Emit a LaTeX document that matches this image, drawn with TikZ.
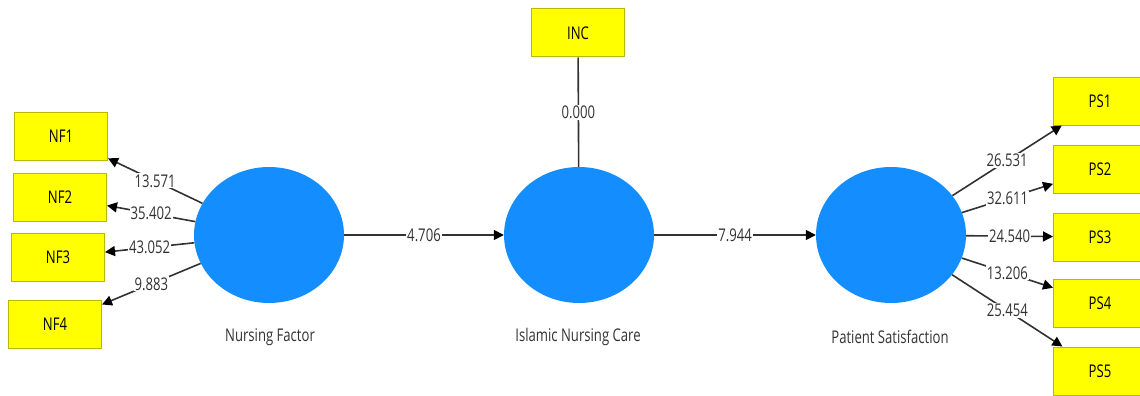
\documentclass[tikz,border=0pt]{standalone}
\usepackage{fontspec}
\setmainfont[FakeStretch=0.75]{Open Sans}
\usetikzlibrary{shapes.geometric, arrows.meta, positioning}
\definecolor{boxyellow}{RGB}{255,255,0}
\definecolor{boxedge}{RGB}{185,185,0}
\definecolor{lvblue}{RGB}{20,142,255}
\definecolor{pathgray}{RGB}{50,50,50}

\tikzset{
  indicator/.style={draw=boxedge, fill=boxyellow, line width=1pt, minimum width=93pt, minimum height=48pt, inner sep=0pt, font=\fontsize{17.5}{20}\selectfont},
  latent/.style={ellipse, fill=lvblue, minimum width=150pt, minimum height=136pt, inner sep=0pt},
  lvname/.style={font=\fontsize{17.5}{20}\selectfont, text=pathgray},
  weight/.style={fill=white, inner sep=1pt, font=\fontsize{17.5}{20}\selectfont, text=pathgray},
  link/.style={draw=pathgray, line width=1.6pt},
}

\begin{document}
\begin{tikzpicture}[x=1pt, y=-1pt, > = {Triangle[length=10pt, width=10pt, color=black]}]
    \useasboundingbox (0,0) rectangle (1140,396);
    % indicators
    \node[indicator] (nf1) at (61,136) {NF1};
    \node[indicator] (nf2) at (60,197) {NF2};
    \node[indicator] (nf3) at (58,257) {NF3};
    \node[indicator] (nf4) at (55,324) {NF4};
    \node[indicator] (inc) at (578,33) {INC};
    \node[indicator] (ps1) at (1100,101) {PS1};
    \node[indicator] (ps2) at (1100,169) {PS2};
    \node[indicator] (ps3) at (1100,237) {PS3};
    \node[indicator] (ps4) at (1100,303) {PS4};
    \node[indicator] (ps5) at (1100,371) {PS5};
    % latent variables
    \node[latent] (nf) at (269,235) {};
    \node[latent] (islam) at (579,235) {};
    \node[latent] (ps) at (891,235) {};
    \node[lvname] (nfname) at (270,337) {Nursing Factor};
    \node[lvname] (islamname) at (578,337) {Islamic Nursing Care};
    \node[lvname] (psname) at (890,337) {Patient Satisfaction};
    % paths
    \foreach \i/\w in {1/13.571, 2/35.402, 3/43.052, 4/9.883}
      \draw[link, ->] (nf) -- node[weight] {\w} (nf\i);
    \foreach \i/\w in {1/26.531, 2/32.611, 3/24.540, 4/13.206, 5/25.454}
      \draw[link, ->] (ps) -- node[weight] {\w} (ps\i);
    \draw[link] (inc) -- node[weight] {0.000} (islam);
    \draw[link, ->] (nf) -- node[weight] {4.706} (islam);
    \draw[link, ->] (islam) -- node[weight] {7.944} (ps);
\end{tikzpicture}
\end{document}
